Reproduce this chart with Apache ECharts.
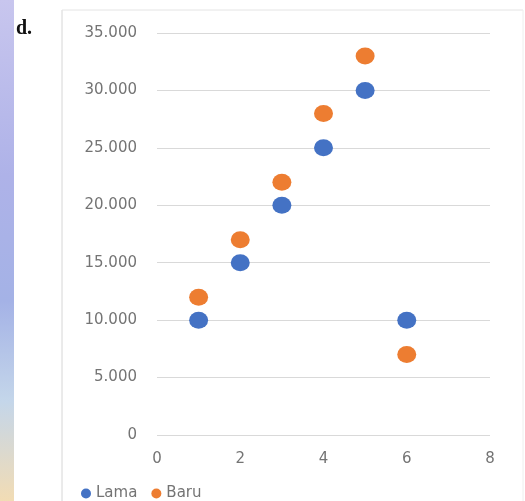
<!DOCTYPE html>
<html><head><meta charset="utf-8">
<script src="https://cdn.jsdelivr.net/npm/echarts@6/dist/echarts.min.js"></script>
<style>html,body{margin:0;padding:0;background:#fff}#c{width:525px;height:501px}</style>
</head><body><div id="c"></div>
<script>
const seriesNames = ['Lama', 'Baru'];
const xValues = [1, 2, 3, 4, 5, 6];
const lamaValues = [10000, 15000, 20000, 25000, 30000, 10000];
const baruValues = [12000, 17000, 22000, 28000, 33000, 7000];
const colors = ['#4472C4', '#ED7D31'];

function fmt(v) {
  return String(v).replace(/\B(?=(\d{3})+(?!\d))/g, '.');
}
const chart = echarts.init(document.getElementById('c'));
const font = 'DejaVu Sans';
chart.setOption({
  animation: false,
  backgroundColor: '#ffffff',
  graphic: [
    { type: 'rect', left: 0, top: 0, shape: { width: 14, height: 501 }, silent: true,
      style: { fill: new echarts.graphic.LinearGradient(0, 0, 0, 1, [
        { offset: 0, color: '#c8c6ee' }, { offset: 0.35, color: '#aeb2e8' },
        { offset: 0.6, color: '#a4b2e6' }, { offset: 0.8, color: '#c4d6ea' },
        { offset: 1, color: '#f2dcb4' }]) } },
    { type: 'line', shape: { x1: 62, y1: 10, x2: 62, y2: 501 }, style: { stroke: '#d6d6d6', lineWidth: 1 }, silent: true },
    { type: 'line', shape: { x1: 62, y1: 10, x2: 523, y2: 10 }, style: { stroke: '#e4e4e4', lineWidth: 1 }, silent: true },
    { type: 'line', shape: { x1: 523, y1: 10, x2: 523, y2: 501 }, style: { stroke: '#eeeeee', lineWidth: 1 }, silent: true },
    { type: 'text', left: 16, top: 19, silent: true,
      style: { text: 'd.', font: 'bold 20px "Liberation Serif"', fill: '#111' } }
  ],
  grid: { left: 157, right: 35, top: 33, bottom: 66, containLabel: false },
  xAxis: {
    type: 'value', min: 0, max: 8, interval: 2,
    axisLine: { show: false }, axisTick: { show: false }, splitLine: { show: false },
    axisLabel: { color: '#747474', fontFamily: font, fontSize: 15, margin: 17 }
  },
  yAxis: {
    type: 'value', min: 0, max: 35000, interval: 5000,
    axisLine: { show: false }, axisTick: { show: false },
    splitLine: { lineStyle: { color: '#d9d9d9', width: 1 } },
    axisLabel: { color: '#747474', fontFamily: font, fontSize: 15, margin: 20, formatter: fmt }
  },
  legend: {
    left: 76, bottom: -5, icon: 'circle', itemWidth: 10, itemHeight: 10, itemGap: 14,
    textStyle: { color: '#747474', fontFamily: font, fontSize: 15 },
    data: seriesNames
  },
  series: [
    { name: seriesNames[0], type: 'scatter', symbolSize: [19, 17], itemStyle: { color: colors[0], opacity: 1 },
      data: xValues.map((x, i) => [x, lamaValues[i]]) },
    { name: seriesNames[1], type: 'scatter', symbolSize: [19, 17], itemStyle: { color: colors[1], opacity: 1 },
      data: xValues.map((x, i) => [x, baruValues[i]]) }
  ]
});
</script></body></html>
